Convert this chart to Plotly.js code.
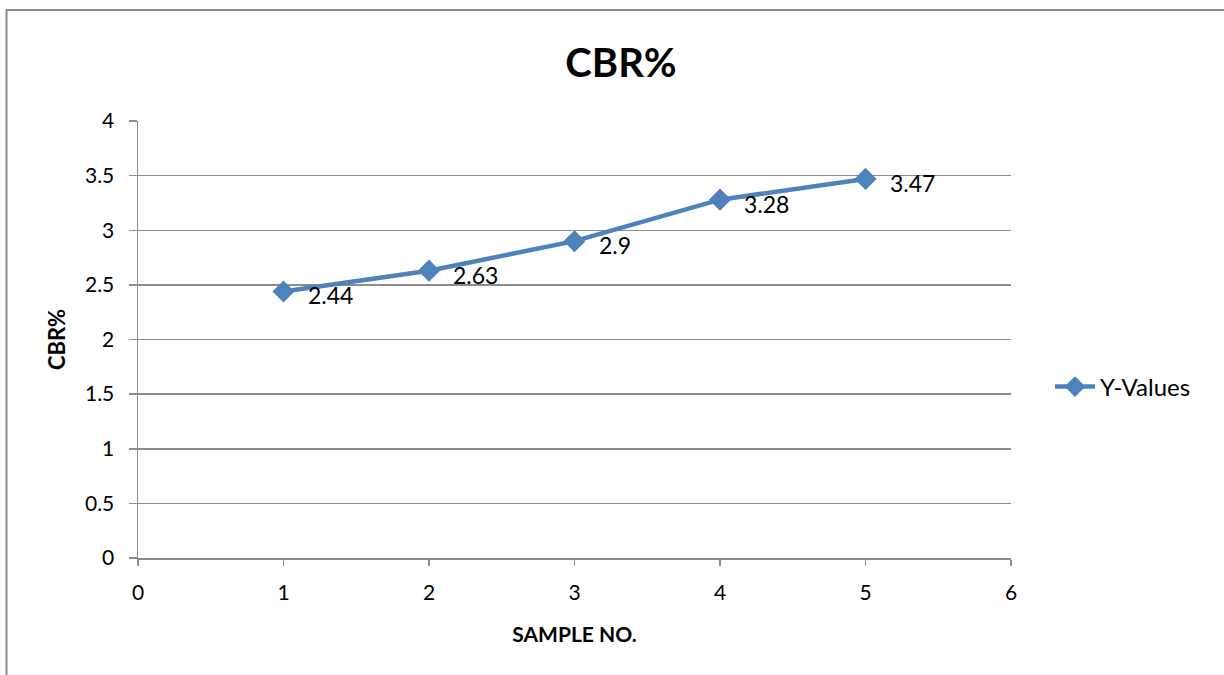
<!DOCTYPE html>
<html>
<head>
<meta charset="utf-8">
<script src="https://cdn.plot.ly/plotly-3.0.1.min.js"></script>
<style>
  html, body { margin: 0; padding: 0; background: #ffffff; }
  #chart { width: 1224px; height: 675px; }
</style>
</head>
<body>
<div id="chart"></div>
<script>
// CBR% measured for each sample
const sampleNo = [1, 2, 3, 4, 5];
const cbrValues = [2.44, 2.63, 2.9, 3.28, 3.47];
const seriesName = 'Y-Values';
const xTicks = [0, 1, 2, 3, 4, 5, 6];
const yTicks = [0, 0.5, 1, 1.5, 2, 2.5, 3, 3.5, 4];

const W = 1224, H = 675;
const plotL = 138, plotR = 1011, plotT = 121, plotB = 558;
const pw = plotR - plotL, ph = plotB - plotT;
const px = v => (v - plotL) / pw;       // pixel -> paper x
const py = v => (plotB - v) / ph;       // pixel -> paper y

const blue = '#4F81BD';
const grid = '#8C8C8C';
const font = 'Lato, "Open Sans", "Liberation Sans", sans-serif';

const trace = {
  x: sampleNo,
  y: cbrValues,
  type: 'scatter',
  mode: 'lines+markers',
  name: seriesName,
  line: { color: blue, width: 4.5 },
  marker: { symbol: 'diamond', size: 17, color: blue, line: { width: 0 } },
  cliponaxis: false
};

// value labels beside each point
const labels = sampleNo.map((s, i) => ({
  x: s, y: cbrValues[i], xref: 'x', yref: 'y',
  text: String(cbrValues[i]),
  showarrow: false, xanchor: 'left', yanchor: 'middle',
  xshift: 22, yshift: -4,
  font: { family: font, size: 23, color: '#000000' }
}));

const layout = {
  width: W, height: H,
  margin: { l: plotL, r: W - plotR, t: plotT, b: H - plotB },
  paper_bgcolor: '#ffffff',
  plot_bgcolor: '#ffffff',
  font: { family: font, color: '#000000' },
  title: {
    text: '<b>CBR%</b>',
    font: { family: font, size: 40, color: '#000000' },
    x: 621 / W, xanchor: 'center', xref: 'container',
    y: 1 - 63 / H, yanchor: 'middle', yref: 'container'
  },
  xaxis: {
    range: [0, 6],
    tickvals: xTicks,
    ticktext: xTicks.map(String),
    showgrid: false,
    zeroline: false,
    showline: true, linecolor: grid, linewidth: 1.5,
    ticks: 'outside', ticklen: 6, tickcolor: grid, tickwidth: 1.5,
    ticklabelstandoff: 9,
    tickfont: { family: font, size: 21, color: '#000000' },
    title: { text: '<b>SAMPLE NO.</b>', font: { family: font, size: 21, color: '#000000' }, standoff: 24 },
    fixedrange: true
  },
  yaxis: {
    range: [0, 4],
    tickvals: yTicks,
    ticktext: yTicks.map(String),
    showgrid: true, gridcolor: grid, gridwidth: 1.5,
    zeroline: false,
    showline: true, linecolor: grid, linewidth: 1.5,
    ticks: 'outside', ticklen: 8, tickcolor: grid, tickwidth: 1.5,
    ticklabelstandoff: 10,
    tickfont: { family: font, size: 21, color: '#000000' },
    title: { text: '<b>CBR%</b>', font: { family: font, size: 22, color: '#000000' }, standoff: 13 },
    fixedrange: true
  },
  showlegend: true,
  legend: {
    x: px(1050), y: py(387), xanchor: 'left', yanchor: 'middle',
    font: { family: font, size: 24, color: '#000000' },
    bgcolor: 'rgba(0,0,0,0)', borderwidth: 0,
    itemwidth: 40
  },
  annotations: labels,
  shapes: [
    // outer chart frame, running past the right and bottom edges
    {
      type: 'rect', xref: 'paper', yref: 'paper', layer: 'below',
      x0: px(6.5), x1: px(W + 20), y0: py(H + 20), y1: py(10),
      line: { color: '#8C8C8C', width: 2 }, fillcolor: 'rgba(0,0,0,0)'
    }
  ]
};

Plotly.newPlot('chart', [trace], layout, { displayModeBar: false, staticPlot: true });
</script>
</body>
</html>
